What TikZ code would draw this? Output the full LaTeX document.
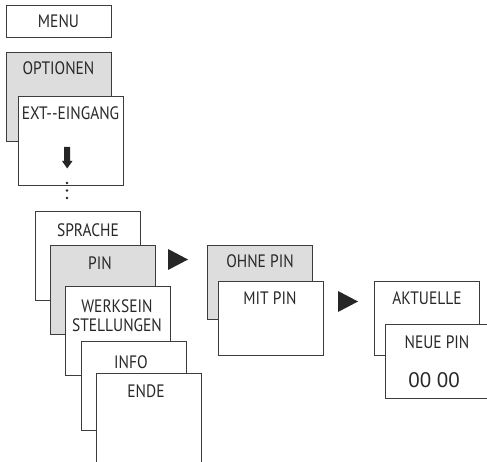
\documentclass[tikz,border=0pt]{standalone}
\usepackage{fontspec}
\setmainfont[FakeStretch=0.86]{PT Sans}
\newfontfamily\codefont{PT Sans}
\usetikzlibrary{positioning}
\definecolor{panelgray}{RGB}{221,221,221}
\definecolor{lineink}{RGB}{60,60,60}
\definecolor{textink}{RGB}{40,40,40}
\tikzstyle{panel}=[rectangle,draw=lineink,fill=white,line width=0.9pt,inner sep=0pt,minimum width=105pt,minimum height=89pt]
\tikzstyle{graypanel}=[panel,fill=panelgray]
\tikzstyle{shortpanel}=[panel,minimum height=74pt]
\tikzstyle{shortgraypanel}=[graypanel,minimum height=74pt]
\tikzstyle{menuitem}=[inner sep=0pt,text=textink,font=\fontsize{18}{19}\selectfont,align=center]
\tikzstyle{bigitem}=[menuitem,font=\codefont\fontsize{21}{22}\selectfont]
\tikzstyle{pointer}=[fill=black!85]

\begin{document}
\begin{tikzpicture}[x=1pt,y=-1pt]
    \useasboundingbox (0,0) rectangle (487,462);

    % First we draw the panels, back to front
    \node[panel,minimum height=32pt,menuitem] (menu) at (58.5,21) {MENU};
    \foreach \pos/\name/\kind in {{(58.5,97)/optionen/graypanel}, {(70.5,140.5)/ext/panel},
        {(87.5,255.5)/sprache/panel}, {(103,289.5)/pin/graypanel}, {(118,330.5)/werksein/panel},
        {(133.5,386)/info/panel},
        {(260,282)/ohnepin/shortgraypanel}, {(271,318.5)/mitpin/shortpanel},
        {(426.5,318.5)/aktuelle/shortpanel}, {(437.5,361.5)/neuepin/shortpanel}}
        \node[\kind] (\name) at \pos {};
    \node[panel,minimum height=110pt] (ende) at (148.5,428) {};

    % Then the texts of the panels
    \foreach \pos/\name/\label in {{(58.5,68)/optionen-t/OPTIONEN}, {(70.5,113)/ext-t/EXT-{}-EINGANG},
        {(88,230)/sprache-t/SPRACHE}, {(100,263)/pin-t/PIN}, {(117,315.5)/werksein-t/WERKSEIN\\STELLUNGEN},
        {(131,362.5)/info-t/INFO}, {(146,391)/ende-t/ENDE},
        {(260,261.5)/ohnepin-t/OHNE PIN}, {(270,298)/mitpin-t/MIT PIN},
        {(427,298)/aktuelle-t/AKTUELLE}, {(437,342)/neuepin-t/NEUE PIN}}
        \node[menuitem] (\name) at \pos {\label};
    \node[bigitem] (code) at (434,380.5) {00 00};

    % Pointers between the levels
    \fill[pointer] (168,249) -- (188,259.5) -- (168,270) -- cycle;
    \fill[pointer] (338,291) -- (358,301.5) -- (338,312) -- cycle;
    \fill[pointer] (64.2,147) -- (70.2,147) -- (70.2,161) -- (72.5,161) -- (67.2,168.5) -- (62,161) -- (64.2,161) -- cycle;
    \foreach \y in {183,190.5,198}
        \fill[pointer] (67,\y) circle (1.3pt);

\end{tikzpicture}
\end{document}
